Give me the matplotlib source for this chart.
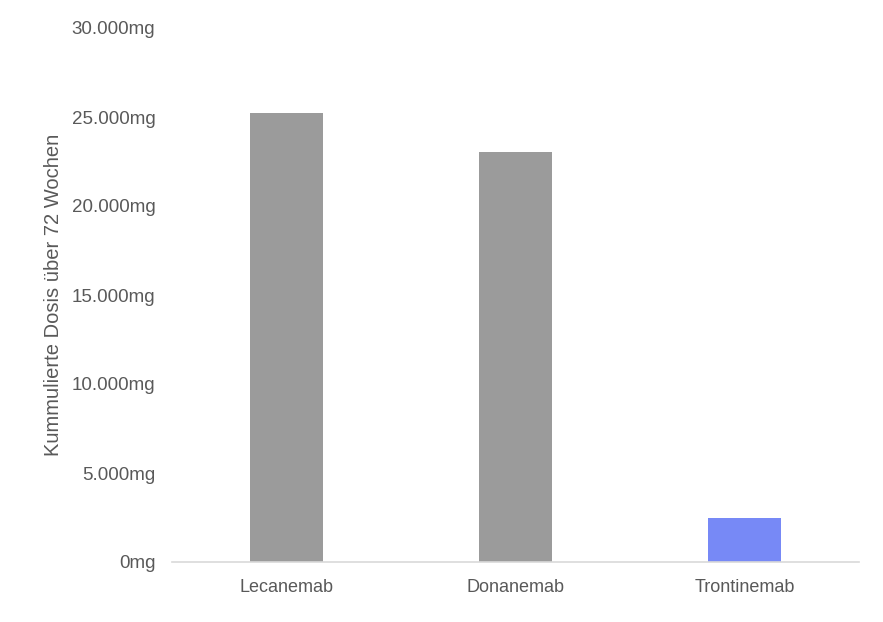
import matplotlib.pyplot as plt
from matplotlib.ticker import FuncFormatter

# Data
drugs = ['Lecanemab', 'Donanemab', 'Trontinemab']
dose_mg = [25200, 23050, 2500]
bar_colors = ['#9b9b9b', '#9b9b9b', '#7789f6']

plt.rcParams['font.family'] = ['Liberation Sans', 'DejaVu Sans']

fig = plt.figure(figsize=(8.83, 6.22), dpi=100)
ax = fig.add_axes([172 / 883, 1 - 562 / 622, 687 / 883, 534 / 622])

ax.bar(range(len(drugs)), dose_mg, width=0.315, color=bar_colors)

ax.set_xlim(-0.5, len(drugs) - 0.5)
ax.set_ylim(0, 30000)
ax.set_yticks(range(0, 30001, 5000))
ax.yaxis.set_major_formatter(FuncFormatter(lambda v, p: f'{int(v):,}'.replace(',', '.') + 'mg'))
ax.set_xticks(range(len(drugs)))
ax.set_xticklabels(drugs)

for s in ['top', 'right', 'left']:
    ax.spines[s].set_visible(False)
ax.spines['bottom'].set_color('#d9d9d9')
ax.spines['bottom'].set_linewidth(1.2)

ax.tick_params(axis='y', length=0, pad=12, labelsize=13.5, labelcolor='#595959')
ax.tick_params(axis='x', length=0, pad=12, labelsize=13, labelcolor='#595959')

ax.set_ylabel('Kummulierte Dosis über 72 Wochen', fontsize=14.5, color='#595959', labelpad=6)

fig.savefig('out.png', dpi=100)
